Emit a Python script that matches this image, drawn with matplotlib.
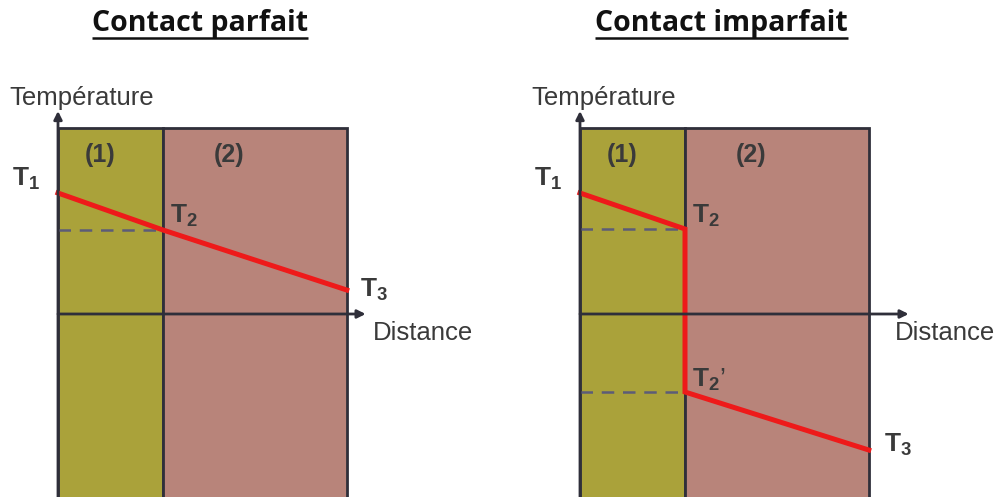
import matplotlib
matplotlib.use("Agg")
import matplotlib.pyplot as plt
from matplotlib.patches import Rectangle

plt.rcParams['font.family'] = ['Liberation Sans', 'DejaVu Sans']
plt.rcParams['mathtext.fontset'] = 'custom'
plt.rcParams['mathtext.rm'] = 'Liberation Sans'
plt.rcParams['mathtext.bf'] = 'Liberation Sans:bold'

# distance: layer (1) from 0 to 1, layer (2) from 1 to 2.75
layer_edges = [0.0, 1.0, 2.75]
layer_names = ["(1)", "(2)"]
layer_colors = ["#aaa23a", "#b8847a"]
slab_top = 1.86

titles = ["Contact parfait", "Contact imparfait"]

# temperature profiles (x-axis at T = 0)
parfait_x = [0.0, 1.0, 2.75]
parfait_T = [1.21, 0.84, 0.24]
imparfait_x = [0.0, 1.0, 1.0, 2.75]
imparfait_T = [1.21, 0.85, -0.78, -1.36]

EDGE = "#2f2f3a"
RED = "#ee1a1a"
DASH = "#5c5c78"
TXT = "#3a3a3a"

fig = plt.figure(figsize=(10, 4.97), dpi=100)


def panel(rect, xlim, x_arrow, title, xs, Ts, labels):
    ax = fig.add_axes(rect)
    ax.set_xlim(*xlim)
    ax.set_ylim(-1.83, 3.14)
    ax.axis("off")

    # slabs
    for i in range(2):
        ax.add_patch(Rectangle((layer_edges[i], -3), layer_edges[i + 1] - layer_edges[i],
                               slab_top + 3, facecolor=layer_colors[i], edgecolor=EDGE,
                               lw=2.0, zorder=1))
        ax.text((layer_edges[i] + layer_edges[i + 1]) / 2 - (0.1 if i == 0 else 0.25),
                slab_top - 0.27, layer_names[i], ha="center", va="center",
                fontsize=18, fontweight="bold", color=TXT, zorder=5)

    # axes arrows
    ax.annotate("", xy=(0, 2.03), xytext=(0, -3),
                arrowprops=dict(arrowstyle="-|>", color=EDGE, lw=2.0,
                                mutation_scale=12, shrinkA=0, shrinkB=0), zorder=4)
    ax.annotate("", xy=(x_arrow, 0), xytext=(0, 0),
                arrowprops=dict(arrowstyle="-|>", color=EDGE, lw=2.0,
                                mutation_scale=12, shrinkA=0, shrinkB=0), zorder=4)
    ax.text(-0.46, 2.16, "Température", fontsize=18.5, color=TXT, ha="left", va="center")
    ax.text(3.0, -0.19, "Distance", fontsize=18.5, color=TXT, ha="left", va="center")

    # dashed guides at interface temperatures
    for T in Ts[1:-1]:
        ax.plot([0, layer_edges[1]], [T, T], ls=(0, (5, 3.5)), color=DASH, lw=1.8, zorder=2)

    ax.plot(xs, Ts, color=RED, lw=3.6, solid_joinstyle="miter", zorder=3)

    ax.text(-0.44, 1.35, r"$\mathbf{T_1}$", fontsize=19, color=TXT, ha="left", va="center")
    for (x, y, s) in labels:
        ax.text(x, y, s, fontsize=19, color=TXT, ha="left", va="center")

    # underlined title
    tx = ax.text(1.35, 2.9, title, fontsize=20.5, fontweight="bold", ha="center",
                 va="center", family=["Open Sans", "DejaVu Sans"], color="#111111")
    return ax, tx


ax1, t1 = panel([0, 0, 0.5, 1], (-58 / 105, 442 / 105), 2.93, titles[0],
                parfait_x, parfait_T,
                [(1.07, 0.98, r"$\mathbf{T_2}$"), (2.88, 0.24, r"$\mathbf{T_3}$")])
ax2, t2 = panel([0.5, 0, 0.5, 1], (-80 / 105, 420 / 105), 3.13, titles[1],
                imparfait_x, imparfait_T,
                [(1.07, 0.98, r"$\mathbf{T_2}$"), (1.07, -0.66, r"$\mathbf{T_2}$’"),
                 (2.9, -1.31, r"$\mathbf{T_3}$")])

# underline the titles
fig.canvas.draw()
for ax, t in [(ax1, t1), (ax2, t2)]:
    bb = t.get_window_extent().transformed(ax.transData.inverted())
    ax.plot([bb.x0, bb.x1], [bb.y0 + 0.005, bb.y0 + 0.005], color="#111111", lw=1.8,
            solid_capstyle="butt")

fig.savefig("out.png", dpi=100, facecolor="white")
